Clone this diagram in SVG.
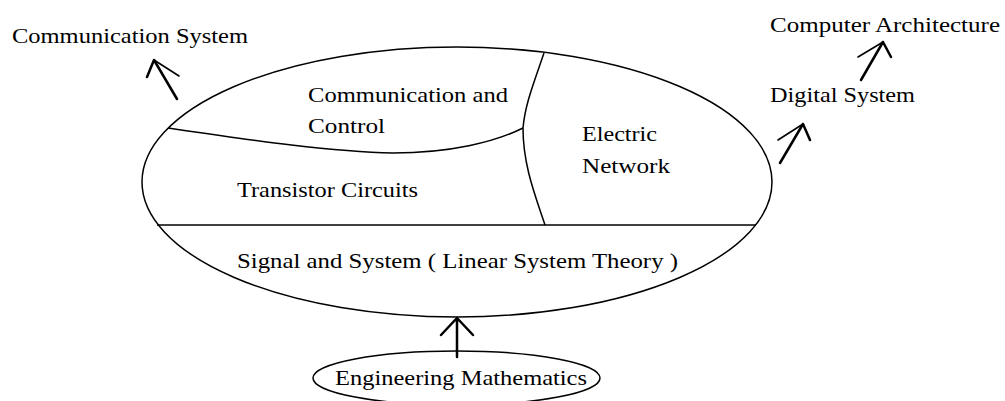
<svg xmlns="http://www.w3.org/2000/svg" width="1005" height="401" viewBox="0 0 1005 401">
<style>
text{font-family:"Liberation Serif","Times New Roman",serif;font-size:22px;fill:#000}
.ln{fill:none;stroke:#000;stroke-width:1.5}
.ar{fill:none;stroke:#000;stroke-width:2.5;stroke-linecap:round}
.bb{fill:none;stroke:#000;stroke-width:1.6;stroke-linecap:round}
</style>
<rect width="1005" height="401" fill="#fff"/>
<g id="main">
<ellipse class="ln" cx="457" cy="182" rx="315" ry="135"/>
<line class="ln" x1="157" y1="225" x2="756" y2="225"/>
<path class="ln" d="M168,128 C250,140 330,152 393,153 C450,153 495,142 523,128"/>
<path class="ln" d="M544,53 C533,85 525,105 523,128 C523,165 535,195 545,225"/>
<text x="308" y="102" textLength="200" lengthAdjust="spacingAndGlyphs">Communication and</text>
<text x="308" y="133" textLength="77" lengthAdjust="spacingAndGlyphs">Control</text>
<text x="582" y="141" textLength="75" lengthAdjust="spacingAndGlyphs">Electric</text>
<text x="582" y="173" textLength="88" lengthAdjust="spacingAndGlyphs">Network</text>
<text x="237" y="197" textLength="181" lengthAdjust="spacingAndGlyphs">Transistor Circuits</text>
<text x="237" y="268" textLength="441" lengthAdjust="spacingAndGlyphs">Signal and System ( Linear System Theory )</text>
</g>
<g id="math">
<ellipse class="ln" cx="456.5" cy="378" rx="143.5" ry="27"/>
<text x="335" y="385" textLength="252" lengthAdjust="spacingAndGlyphs">Engineering Mathematics</text>
</g>
<g id="comm"><text x="12" y="43" textLength="236" lengthAdjust="spacingAndGlyphs">Communication System</text></g>
<g id="digital"><text x="770" y="102" textLength="145" lengthAdjust="spacingAndGlyphs">Digital System</text></g>
<g id="arch"><text x="770" y="32" textLength="230" lengthAdjust="spacingAndGlyphs">Computer Architecture</text></g>
<g id="connectors">
<path class="ar" d="M177,99 L154,60 M154,60 L147,77"/>
<path class="bb" d="M154,60 L179,76"/>
<path class="ar" d="M780,163 L803,124 M803,124 L810,140"/>
<path class="bb" d="M803,124 L778,140"/>
<path class="ar" d="M861,80 L883,42 M883,42 L891,57"/>
<path class="bb" d="M883,42 L858,57"/>
<path class="ar" d="M457,357 L457,318 M457,318 L441,335 M457,318 L473,335"/>
</g>
</svg>
